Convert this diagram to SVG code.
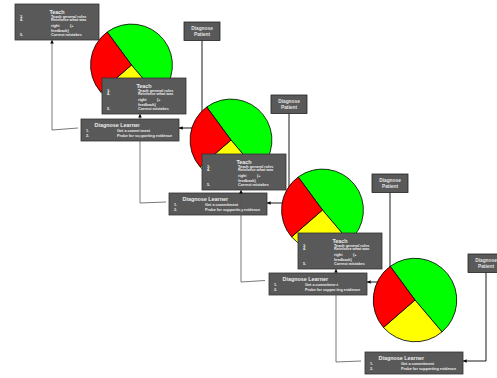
<svg xmlns="http://www.w3.org/2000/svg" xmlns:xlink="http://www.w3.org/1999/xlink" width="497" height="378" viewBox="0 0 497 378">
<style>
.box{fill:#595959;stroke:#333;stroke-width:0.8}
.t{font-family:"Liberation Sans",Arial,sans-serif;font-weight:bold;fill:#ececec}
.ttl{font-size:5.4px}
.it{font-size:3.8px}
.dp{font-family:"Liberation Sans",Arial,sans-serif;font-weight:bold;fill:#e2e2e2;font-size:4.8px;text-anchor:middle}
.c1{fill:none;stroke:#555;stroke-width:0.8;marker-end:url(#ah)}
.c2{fill:none;stroke:#000;stroke-width:0.9;marker-end:url(#ah)}
.pie path{stroke:#000;stroke-width:0.8;stroke-linejoin:round}
</style>
<defs>
<marker id="ah" viewBox="0 0 10 10" refX="10" refY="5" markerWidth="4" markerHeight="3.6" markerUnits="userSpaceOnUse" orient="auto"><path d="M0,0 L10,5 L0,10 z" fill="#000"/></marker>
<g id="pieShape" class="pie">
<path d="M0,0 L-24.3,-33 A41,41 0 0 1 26.5,31.3 Z" fill="#00ff00"/>
<path d="M0,0 L26.5,31.3 A41,41 0 0 1 -30.9,26.9 Z" fill="#ffff00"/>
<path d="M0,0 L-30.9,26.9 A41,41 0 0 1 -24.3,-33 Z" fill="#ff0000"/>
</g>
<g id="teachBox">
<rect class="box" x="0" y="0" width="84" height="36"/>
<text class="t ttl" x="42" y="9.8" text-anchor="middle">Teach</text>
<text class="t it" x="5" y="13.6">3.</text><text class="t it" x="36" y="13.6">Teach general rules</text>
<text class="t it" x="5" y="17.4">4.</text><text class="t it" x="36" y="17.4">Reinforce what was</text>
<text class="t it" x="36" y="23">right</text><text class="t it" x="55" y="23">(+</text>
<text class="t it" x="36" y="27.6">feedback)</text>
<text class="t it" x="5" y="32.4">5.</text><text class="t it" x="36" y="32.4">Correct mistakes</text>
</g>
<g id="dlBox">
<rect class="box" x="0" y="0" width="98" height="22"/>
<text class="t ttl" x="13.5" y="7.6">Diagnose Learner</text>
<text class="t it" x="5" y="12.6">1.</text><text class="t it" x="36" y="12.6">Get a commitment</text>
<text class="t it" x="5" y="18">2.</text><text class="t it" x="36" y="18">Probe for supporting evidence</text>
</g>
<g id="dpBox">
<rect class="box" x="0" y="0" width="36" height="18.5" style="stroke:#222"/>
<text class="dp" x="18" y="8">Diagnose</text>
<text class="dp" x="18" y="14.2">Patient</text>
</g>
</defs>

<g id="learner1"><use xlink:href="#dlBox" href="#dlBox" transform="translate(81,119)"/></g>
<g id="learner2"><use xlink:href="#dlBox" href="#dlBox" transform="translate(169,193)"/></g>
<g id="learner3"><use xlink:href="#dlBox" href="#dlBox" transform="translate(269,273)"/></g>
<g id="learner4"><use xlink:href="#dlBox" href="#dlBox" transform="translate(365,352)"/></g>

<g id="connectors">
<path class="c1" d="M78,128 L52,130 L52,40"/>
<path class="c1" d="M166,202 L140,203 L140,114"/>
<path class="c1" d="M265,280.5 L241,282 L241,190"/>
<path class="c1" d="M361,361 L336,362 L336,269"/>
<path class="c2" d="M202,40.5 L202,128 L179,128"/>
<path class="c2" d="M289,113.5 L289,203 L267,203"/>
<path class="c2" d="M390,192.5 L390,282 L367,282"/>
<path class="c2" d="M486,272.5 L486,361 L463,361"/>
</g>

<g id="pie1"><use xlink:href="#pieShape" href="#pieShape" transform="translate(131.5,65)"/></g>
<g id="pie2"><use xlink:href="#pieShape" href="#pieShape" transform="translate(231,140)"/></g>
<g id="pie3"><use xlink:href="#pieShape" href="#pieShape" transform="translate(322.5,210)"/></g>
<g id="pie4"><use xlink:href="#pieShape" href="#pieShape" transform="translate(415,300) scale(1.02)"/></g>

<g id="teach1"><use xlink:href="#teachBox" href="#teachBox" transform="translate(15,4)"/></g>
<g id="teach2"><use xlink:href="#teachBox" href="#teachBox" transform="translate(102,78)"/></g>
<g id="teach3"><use xlink:href="#teachBox" href="#teachBox" transform="translate(202,154)"/></g>
<g id="teach4"><use xlink:href="#teachBox" href="#teachBox" transform="translate(298,233)"/></g>

<g id="patient1"><use xlink:href="#dpBox" href="#dpBox" transform="translate(184,22)"/></g>
<g id="patient2"><use xlink:href="#dpBox" href="#dpBox" transform="translate(271,95)"/></g>
<g id="patient3"><use xlink:href="#dpBox" href="#dpBox" transform="translate(372,174)"/></g>
<g id="patient4"><use xlink:href="#dpBox" href="#dpBox" transform="translate(468,254)"/></g>
</svg>
